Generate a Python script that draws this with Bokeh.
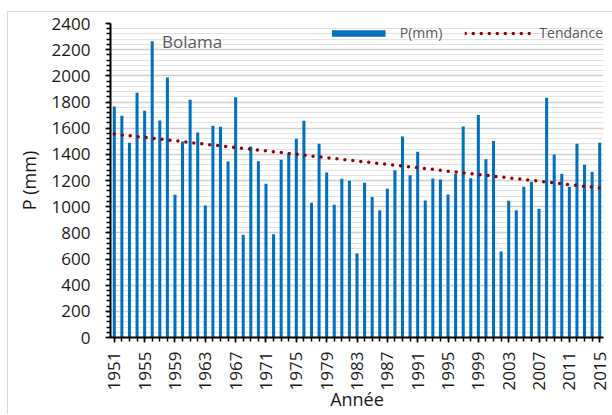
import math
from bokeh.plotting import figure
from bokeh.models import (ColumnDataSource, FixedTicker, SingleIntervalTicker,
                          Range1d, Legend, LegendItem, Label, InlineStyleSheet)
from bokeh.embed import file_html
from bokeh.resources import INLINE

# ---- data ----
years = list(range(1951, 2016))
precip = [1766, 1695, 1488, 1871, 1733, 2265, 1659, 1988, 1091, 1498,
          1817, 1567, 1009, 1618, 1611, 1345, 1837, 785, 1460, 1348,
          1175, 790, 1358, 1404, 1519, 1656, 1030, 1481, 1261, 1014,
          1213, 1198, 642, 1183, 1073, 973, 1137, 1279, 1537, 1241,
          1420, 1047, 1216, 1208, 1093, 1251, 1613, 1218, 1700, 1363,
          1501, 657, 1045, 973, 1152, 1190, 984, 1832, 1399, 1251,
          1152, 1481, 1320, 1267, 1488]
trend_years = [1951, 2015]
trend_values = [1555, 1143]
x_tick_years = [1951, 1955, 1959, 1963, 1967, 1971, 1975, 1979, 1983, 1987,
                1991, 1995, 1999, 2003, 2007, 2011, 2015]
station = "Bolama"

FONT = "Open Sans"
BLUE = "#0070C0"
RED = "#990000"

p = figure(width=612, height=415, output_backend="svg", toolbar_location=None,
           x_range=Range1d(1950.5, 2015.5), y_range=Range1d(0, 2400),
           min_border_left=110, min_border_right=9, min_border_top=23,
           min_border_bottom=78)
p.outline_line_color = None

src = ColumnDataSource(dict(year=years, p=precip))
bars = p.vbar(x="year", top="p", width=0.4, source=src, fill_color=BLUE,
              line_color=None)
trend = p.line(trend_years, trend_values, line_color=RED, line_width=3.5,
               line_dash="0 8", line_cap="round")

# axes
p.xaxis.ticker = FixedTicker(ticks=x_tick_years, minor_ticks=years)
p.yaxis.ticker = SingleIntervalTicker(interval=200, num_minor_ticks=5)
for ax in (p.xaxis[0], p.yaxis[0]):
    ax.axis_line_color = "black"
    ax.axis_line_width = 2
    ax.major_tick_line_color = "black"
    ax.minor_tick_line_color = "black"
    ax.major_tick_line_width = 1.5
    ax.minor_tick_line_width = 1.5
    ax.major_tick_out = 5
    ax.major_tick_in = 0
    ax.minor_tick_out = 4
    ax.minor_tick_in = 0
    ax.major_label_text_font = FONT
    ax.major_label_text_font_size = "17px"
    ax.major_label_text_color = "#1a1a1a"
    ax.axis_label_text_font = FONT
    ax.axis_label_text_font_size = "18px"
    ax.axis_label_text_font_style = "normal"
    ax.axis_label_text_color = "#1a1a1a"

p.xaxis.major_label_orientation = math.pi / 2
p.xaxis.major_label_standoff = 9
p.xaxis.axis_label = "Année"
p.xaxis.axis_label_standoff = -6
p.yaxis.major_label_standoff = 15
p.yaxis.axis_label = "P (mm)"
p.yaxis.axis_label_standoff = 8

# grid
p.xgrid.grid_line_color = None
p.ygrid.grid_line_color = "#d0d0d0"
p.ygrid.grid_line_width = 1.5
p.ygrid.minor_grid_line_color = "#e3e3e3"
p.ygrid.minor_grid_line_width = 1

# station label
p.add_layout(Label(x=1957.3, y=2265, text=station, text_font=FONT,
                   text_font_size="17px", text_color="#595959",
                   text_baseline="middle", text_align="left"))

# legend
legend = Legend(items=[LegendItem(label="P(mm)", renderers=[bars]),
                       LegendItem(label="Tendance", renderers=[trend])],
                orientation="horizontal", location="top_right",
                glyph_width=67, glyph_height=8, label_standoff=8, spacing=22,
                padding=0, margin=0, border_line_color=None,
                background_fill_alpha=0, label_text_font=FONT,
                label_text_font_size="14px", label_text_color="#595959")
p.add_layout(legend)

# light chart border (left and top edges, as in the reference)
p.stylesheets = [InlineStyleSheet(css=(
    ":host::after { content: ''; position: absolute; left: 7px; top: 11px; "
    "width: 604px; height: 402px; border-left: 1px solid #d9d9d9; "
    "border-top: 1px solid #d9d9d9; pointer-events: none; }"))]

open("out.html", "w").write(file_html(p, INLINE))
